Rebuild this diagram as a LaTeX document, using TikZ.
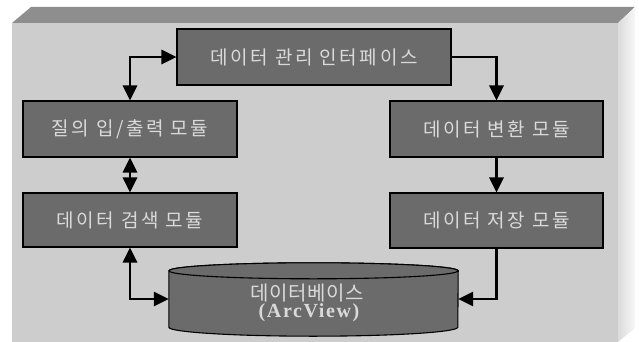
\documentclass[tikz,border=0pt]{standalone}
\usepackage{fontspec}
\newfontfamily\kr[LetterSpace=14]{Noto Sans CJK KR}
\newfontfamily\krdb[LetterSpace=3]{Noto Sans CJK KR}
\newfontfamily\tnr[LetterSpace=8]{Liberation Serif}
\usetikzlibrary{arrows.meta}
\definecolor{boxgray}{HTML}{6B6B6B}
\definecolor{txtgray}{HTML}{DADADA}
\definecolor{frontgray}{HTML}{CDCDCD}
\definecolor{topgray}{HTML}{8E8E8E}
\tikzset{
  modbox/.style={draw=black, line width=1.1pt, fill=boxgray, text=txtgray,
    inner sep=0pt, font=\kr\fontsize{19}{22}\selectfont},
  conn/.style={line width=2.8pt, black, -{Triangle[width=14pt,length=15pt]}},
  conn2/.style={line width=2.8pt, black, {Triangle[width=14pt,length=15pt]}-{Triangle[width=14pt,length=15pt]}}
}
\begin{document}
\begin{tikzpicture}[x=1pt, y=-1pt]
\useasboundingbox (0,0) rectangle (639,342);
\fill[white] (0,0) rectangle (639,342);
% slab
\fill[topgray] (12,23) -- (31,7) -- (635,7) -- (618,23) -- cycle;
\shade[left color=black!14, right color=black!3] (618,23) -- (635,7) -- (635,328) -- (618,342) -- cycle;
\fill[frontgray] (12,23) rectangle (618,342);
% boxes
\node[modbox, minimum width=274pt, minimum height=56pt] (top) at (314,57) {데이터 관리 인터페이스};
\node[modbox, minimum width=214pt, minimum height=56pt] (lb1) at (130,129) {질의 입/출력 모듈};
\node[modbox, minimum width=214pt, minimum height=54pt] (lb2) at (130,220) {데이터 검색 모듈};
\node[modbox, minimum width=213pt, minimum height=56pt] (rb1) at (496.5,129) {데이터 변환 모듈};
\node[modbox, minimum width=213pt, minimum height=55pt] (rb2) at (496.5,220.5) {데이터 저장 모듈};
% database cylinder
\node[inner sep=0pt, minimum width=289pt, minimum height=56pt] (db) at (313.5,299) {};
\filldraw[fill=boxgray, draw=black, line width=1.1pt]
  (db.north west) -- (db.south west)
  arc[start angle=180, end angle=360, x radius=144.5pt, y radius=9pt]
  -- (db.north east)
  arc[start angle=0, end angle=180, x radius=144.5pt, y radius=8pt] -- cycle;
\draw[fill=boxgray, line width=1.1pt] (db.north) ellipse[x radius=144.5pt, y radius=8pt];
\node[text=txtgray, font=\krdb\fontsize{20}{22}\selectfont, inner sep=0pt] (dbt1) at (307,293) {데이터베이스};
\node[text=txtgray, font=\tnr\bfseries\fontsize{20}{22}\selectfont, inner sep=0pt] (dbt2) at (309,313) {(ArcView)};
% connectors
\draw[conn2] (top.west) -| (lb1.north);
\draw[conn] (top.east) -| (rb1.north);
\draw[conn] (rb1.south) -- (rb2.north);
\draw[conn2] (lb1.south) -- (lb2.north);
\draw[conn2] (lb2.south) |- (db.west);
\draw[conn] (rb2.south) |- (db.east);
\end{tikzpicture}
\end{document}
